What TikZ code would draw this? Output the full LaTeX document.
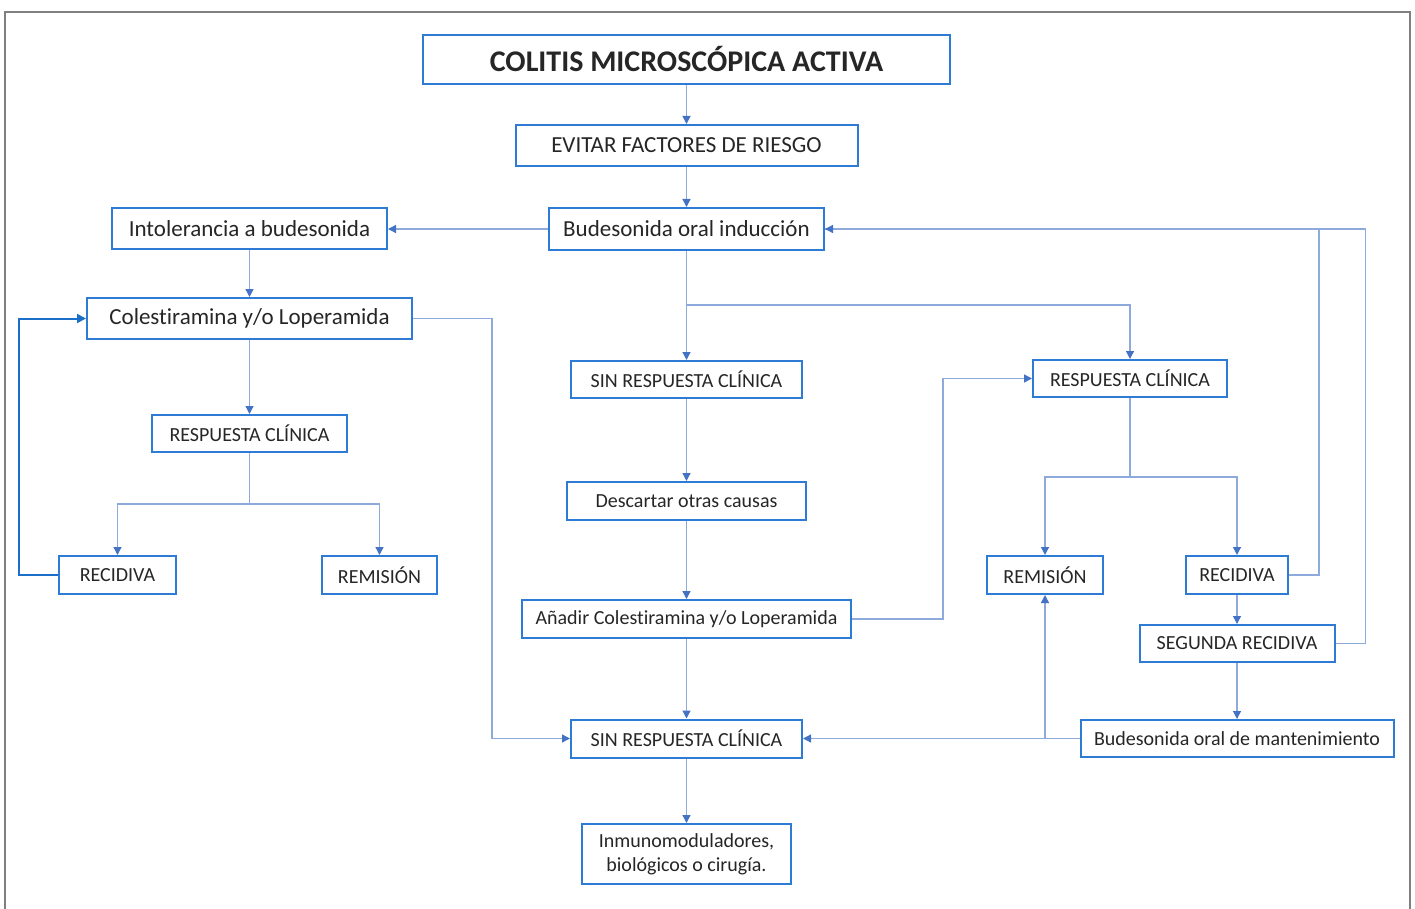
\documentclass[tikz,border=0pt]{standalone}
\usepackage{fontspec}
\setmainfont{Carlito}[Ligatures=NoCommon]
\usetikzlibrary{arrows.meta}
\definecolor{boxblue}{HTML}{2E7BD6}
\definecolor{linkblue}{HTML}{8EAADC}
\definecolor{tipblue}{HTML}{4472C4}
\definecolor{loopblue}{HTML}{1C6FC9}
\definecolor{framegray}{HTML}{808080}
\tikzset{
  box/.style={draw=boxblue, line width=2pt, fill=white, inner sep=0pt, align=center, text=black!85},
  big/.style={box, font=\fontsize{23}{27}\selectfont},
  small/.style={box, font=\fontsize{20}{24}\selectfont},
  conn/.style={draw=linkblue, line width=1.3pt, -{Triangle[length=8pt,width=8pt,color=tipblue]}},
  plain/.style={draw=linkblue, line width=1.3pt},
  loopconn/.style={draw=loopblue, line width=2pt, -{Triangle[length=9pt,width=9pt]}}
}
\begin{document}
\begin{tikzpicture}[x=1pt,y=-1pt]
\useasboundingbox (0,0) rectangle (1415,909);
\draw[framegray, line width=2pt] (5,909) -- (5,12) -- (1410,12) -- (1410,909);

% nodes
\node[box, font=\fontsize{30}{34}\selectfont\bfseries, minimum width=527pt, minimum height=49pt] (title) at (686.5,59.5) {COLITIS MICROSCÓPICA ACTIVA};
\node[big, minimum width=342pt, minimum height=41pt] (evitar) at (686.5,145.5) {EVITAR FACTORES DE RIESGO};
\node[big, minimum width=275pt, minimum height=42pt] (bud) at (686.5,229) {Budesonida oral inducción};
\node[big, minimum width=275pt, minimum height=41pt] (intol) at (249.5,229) {Intolerancia a budesonida};
\node[big, minimum width=325pt, minimum height=41pt] (coles) at (249.5,318.5) {Colestiramina y/o Loperamida};
\node[small, minimum width=195pt, minimum height=37pt] (resL) at (249.5,433.5) {RESPUESTA CLÍNICA};
\node[small, minimum width=117pt, minimum height=38pt] (recL) at (117.5,575) {RECIDIVA};
\node[small, minimum width=115pt, minimum height=38pt] (remL) at (379.5,575) {REMISIÓN};
\node[small, minimum width=231pt, minimum height=37pt] (sin1) at (686.5,379.5) {SIN RESPUESTA CLÍNICA};
\node[small, minimum width=239pt, minimum height=38pt] (desc) at (686.5,501) {Descartar otras causas};
\node[small, minimum width=329pt, minimum height=38pt] (anad) at (686.5,619) {Añadir Colestiramina y/o Loperamida};
\node[small, minimum width=231pt, minimum height=38pt] (sin2) at (686.5,738.5) {SIN RESPUESTA CLÍNICA};
\node[small, minimum width=209pt, minimum height=60pt] (inmu) at (686.5,854) {Inmunomoduladores,\\biológicos o cirugía.};
\node[small, minimum width=194pt, minimum height=37pt] (resR) at (1130,378.5) {RESPUESTA CLÍNICA};
\node[small, minimum width=116pt, minimum height=38pt] (remR) at (1045,575) {REMISIÓN};
\node[small, minimum width=102pt, minimum height=38pt] (recR) at (1237,575) {RECIDIVA};
\node[small, minimum width=195pt, minimum height=37pt] (seg) at (1237,643.5) {SEGUNDA RECIDIVA};
\node[small, minimum width=313pt, minimum height=37pt] (mant) at (1237,738.5) {Budesonida oral de mantenimiento};

% junctions
\coordinate (j1) at (686.5,305);
\coordinate (j2) at (1130,477);
\coordinate (j3) at (249.5,504);

% connectors
\draw[conn] (title) -- (evitar);
\draw[conn] (evitar) -- (bud);
\draw[conn] (bud.west) -- (intol.east);
\draw[conn] (intol) -- (coles);
\draw[conn] (coles) -- (resL);
\draw[plain] (resL.south) -- (j3);
\draw[conn] (j3) -| (recL.north);
\draw[conn] (j3) -| (remL.north);
\draw[loopconn] (recL.west) -- ++(-39,0) |- (coles.west);
\draw[conn] (coles.east) -- ++(79,0) |- (sin2.west);

\draw[plain] (bud.south) -- (j1);
\draw[conn] (j1) -- (sin1.north);
\draw[conn] (j1) -| (resR.north);
\draw[conn] (sin1) -- (desc);
\draw[conn] (desc) -- (anad);
\draw[conn] (anad) -- (sin2);
\draw[conn] (sin2) -- (inmu);
\draw[conn] (anad.east) -- ++(91,0) |- (resR.west);

\draw[plain] (resR.south) -- (j2);
\draw[conn] (j2) -| (remR.north);
\draw[conn] (j2) -| (recR.north);
\draw[conn] (recR) -- (seg);
\draw[conn] (seg) -- (mant);
\draw[plain] (recR.east) -- ++(30,0) |- (bud.east);
\draw[conn] (seg.east) -- ++(30,0) |- (bud.east);
\draw[conn] (mant.west) -- (sin2.east);
\draw[conn] (mant.west -| remR.south) -- (remR.south);
\end{tikzpicture}
\end{document}
